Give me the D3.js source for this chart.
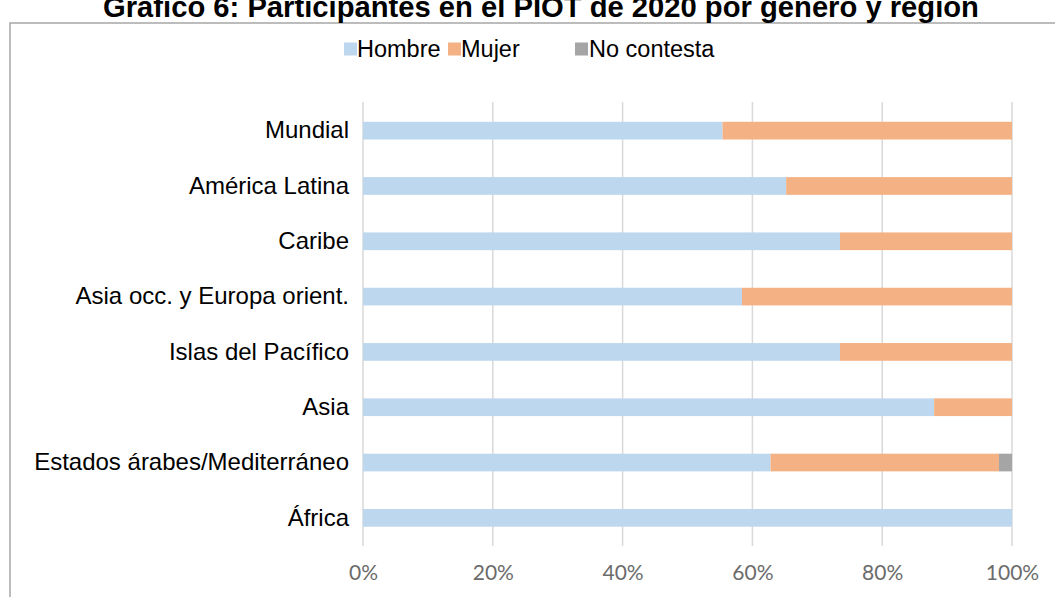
<!DOCTYPE html>
<html>
<head>
<meta charset="utf-8">
<script src="https://cdn.jsdelivr.net/npm/d3@7"></script>
<style>
  html, body { margin: 0; padding: 0; background: #fff; overflow: hidden; }
  svg { display: block; }
</style>
</head>
<body>
<svg id="chart" width="1055" height="597"></svg>
<script>
const titleText = "Gráfico 6: Participantes en el PIOT de 2020 por género y región";
const categories = ["Mundial", "América Latina", "Caribe", "Asia occ. y Europa orient.", "Islas del Pacífico", "Asia", "Estados árabes/Mediterráneo", "África"];
const seriesNames = ["Hombre", "Mujer", "No contesta"];
const hombre = [0.554, 0.652, 0.735, 0.584, 0.735, 0.880, 0.628, 1.000];
const mujer = [0.446, 0.348, 0.265, 0.416, 0.265, 0.120, 0.352, 0.000];
const noContesta = [0.000, 0.000, 0.000, 0.000, 0.000, 0.000, 0.020, 0.000];
const tickValues = [0, 0.2, 0.4, 0.6, 0.8, 1.0];
const colors = ["#BDD7EE", "#F4B183", "#A5A5A5"];

const svg = d3.select("#chart");

// outer frame (clipped by page)
svg.append("rect")
  .attr("x", 10).attr("y", 23)
  .attr("width", 1100).attr("height", 700)
  .attr("fill", "none").attr("stroke", "#A6A6A6").attr("stroke-width", 1.5);

// title
svg.append("text")
  .attr("x", 541).attr("y", 16.5)
  .attr("text-anchor", "middle")
  .attr("font-family", "Liberation Sans, Arial, sans-serif")
  .attr("font-weight", "bold")
  .attr("font-size", 29.2)
  .attr("fill", "#000")
  .text(titleText);

const x = d3.scaleLinear().domain([0, 1]).range([363, 1012]);
const y = d3.scaleBand().domain(categories).range([103, 545.5]).paddingInner(0.68).paddingOuter(0.34);

// gridlines
svg.append("g").selectAll("line")
  .data(tickValues)
  .join("line")
  .attr("x1", d => x(d)).attr("x2", d => x(d))
  .attr("y1", 102).attr("y2", 546)
  .attr("stroke", "#D9D9D9").attr("stroke-width", 1.5);

// stacked bars
const rows = categories.map((c, i) => ({ cat: c, Hombre: hombre[i], Mujer: mujer[i], "No contesta": noContesta[i] }));
const stack = d3.stack().keys(seriesNames)(rows);

svg.append("g").selectAll("g")
  .data(stack)
  .join("g")
  .attr("fill", (d, i) => colors[i])
  .selectAll("rect")
  .data(d => d)
  .join("rect")
  .attr("x", d => x(d[0]))
  .attr("width", d => Math.max(0, x(d[1]) - x(d[0])))
  .attr("y", d => y(d.data.cat))
  .attr("height", y.bandwidth());

// category labels
const yAxis = d3.axisLeft(y).tickSize(0).tickPadding(14);
const gy = svg.append("g").attr("transform", "translate(363,0)").call(yAxis);
gy.select(".domain").remove();
gy.selectAll("text")
  .attr("font-family", "Liberation Sans, Arial, sans-serif")
  .attr("font-size", 24)
  .attr("fill", "#000");

// x axis tick labels
const xAxis = d3.axisBottom(x).tickValues(tickValues).tickFormat(d3.format(".0%")).tickSize(0).tickPadding(0);
const gx = svg.append("g").attr("transform", "translate(0,568)").call(xAxis);
gx.select(".domain").remove();
gx.selectAll("text")
  .attr("font-family", "Lato, Open Sans, sans-serif")
  .attr("font-size", 21)
  .attr("fill", "#6B6B6B")
  .attr("dy", "0.55em");

// legend
const legendItems = [
  { name: seriesNames[0], sx: 344, tx: 357, color: colors[0] },
  { name: seriesNames[1], sx: 448, tx: 461, color: colors[1] },
  { name: seriesNames[2], sx: 575, tx: 589, color: colors[2] }
];
const lg = svg.append("g");
lg.selectAll("rect").data(legendItems).join("rect")
  .attr("x", d => d.sx).attr("y", 42.5)
  .attr("width", 13).attr("height", 13)
  .attr("fill", d => d.color);
lg.selectAll("text").data(legendItems).join("text")
  .attr("x", d => d.tx).attr("y", 56.5)
  .attr("font-family", "Liberation Sans, Arial, sans-serif")
  .attr("font-size", 23.5)
  .attr("fill", "#000")
  .text(d => d.name);
</script>
</body>
</html>
